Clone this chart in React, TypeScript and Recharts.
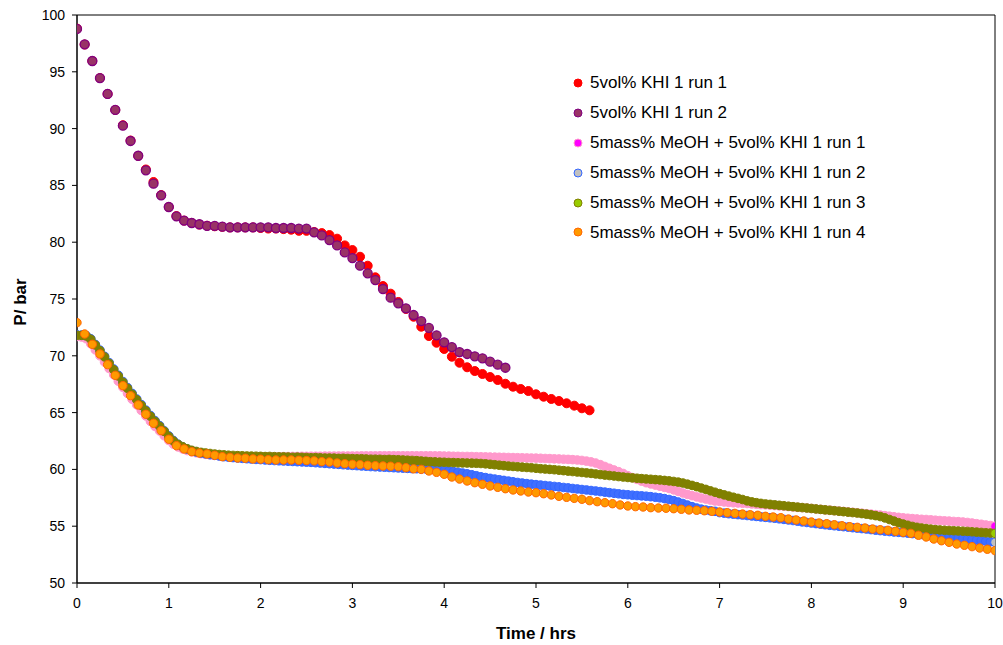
import React from 'react';
import { ScatterChart, Scatter, XAxis, YAxis, ReferenceLine } from 'recharts';

const FONT = '"Liberation Sans", Arial, Helvetica, sans-serif';

// Sampling intervals (hours)
const KHI_STEP = 5 / 60;
const DENSE_STEP = 0.05;

const X_TICKS = [0, 1, 2, 3, 4, 5, 6, 7, 8, 9, 10];
const Y_TICKS = [50, 55, 60, 65, 70, 75, 80, 85, 90, 95, 100];

const SERIES_NAMES = [
  '5vol% KHI 1 run 1',
  '5vol% KHI 1 run 2',
  '5mass% MeOH + 5vol% KHI 1 run 1',
  '5mass% MeOH + 5vol% KHI 1 run 2',
  '5mass% MeOH + 5vol% KHI 1 run 3',
  '5mass% MeOH + 5vol% KHI 1 run 4',
];

// 5vol% KHI 1 run 1 (every 5 min)
const khiRun1 = [
  98.8, 97.4, 95.95, 94.45, 93.05, 91.64, 90.3, 88.95, 87.6, 86.4,
  85.3, 84.15, 83.1, 82.3, 81.9, 81.7, 81.55, 81.45, 81.4, 81.35,
  81.3, 81.3, 81.3, 81.3, 81.25, 81.2, 81.2, 81.15, 81.1, 81.0,
  81.0, 80.9, 80.8, 80.63, 80.31, 79.72, 79.31, 78.72, 77.93, 76.91,
  76.14, 75.47, 74.74, 74.12, 73.44, 72.56, 71.74, 71.15, 70.6, 69.92,
  69.39, 68.99, 68.66, 68.4, 68.13, 67.87, 67.54, 67.28, 67.08, 66.9,
  66.61, 66.4, 66.2, 66.02, 65.82, 65.61, 65.38, 65.2,
];

// 5vol% KHI 1 run 2 (every 5 min)
const khiRun2 = [
  98.77, 97.42, 95.95, 94.45, 93.05, 91.64, 90.26, 88.91, 87.61, 86.33,
  85.15, 84.13, 83.1, 82.28, 81.9, 81.69, 81.58, 81.43, 81.43, 81.37,
  81.31, 81.31, 81.31, 81.31, 81.31, 81.31, 81.25, 81.25, 81.25, 81.2,
  81.2, 80.87, 80.6, 80.19, 79.72, 79.1, 78.6, 77.93, 77.26, 76.67,
  75.88, 75.12, 74.62, 74.18, 73.59, 73.06, 72.45, 71.8, 71.19, 70.77,
  70.33, 70.16, 69.95, 69.78, 69.48, 69.22, 68.95,
];

// 5mass% MeOH + 5vol% KHI 1 run 1 (dense, every 3 min)
const meohRun1 = [
  71.7, 71.65, 71.5, 71.05, 70.52, 70.0, 69.45, 68.88, 68.32, 67.77, 67.22, 66.69, 66.17, 65.68, 65.19, 64.7, 64.23, 63.78, 63.38, 62.96,
  62.55, 62.22, 61.98, 61.8, 61.66, 61.55, 61.46, 61.39, 61.33, 61.28, 61.24, 61.2, 61.17, 61.14, 61.12, 61.11, 61.1, 61.1, 61.1, 61.1,
  61.1, 61.11, 61.11, 61.12, 61.12, 61.13, 61.13, 61.14, 61.14, 61.15, 61.15, 61.16, 61.16, 61.16, 61.17, 61.17, 61.17, 61.18, 61.18, 61.18,
  61.18, 61.18, 61.19, 61.19, 61.19, 61.19, 61.2, 61.2, 61.2, 61.2, 61.2, 61.2, 61.2, 61.2, 61.2, 61.2, 61.2, 61.2, 61.19, 61.19,
  61.18, 61.17, 61.16, 61.15, 61.14, 61.14, 61.13, 61.12, 61.11, 61.1, 61.09, 61.08, 61.07, 61.06, 61.05, 61.04, 61.03, 61.02, 61.01, 61.0,
  60.99, 60.98, 60.96, 60.95, 60.93, 60.92, 60.9, 60.88, 60.86, 60.83, 60.79, 60.73, 60.66, 60.56, 60.42, 60.26, 60.1, 59.95, 59.8, 59.64,
  59.45, 59.28, 59.12, 58.97, 58.83, 58.72, 58.62, 58.52, 58.42, 58.32, 58.2, 58.06, 57.92, 57.8, 57.69, 57.58, 57.48, 57.39, 57.3, 57.22,
  57.18, 57.13, 57.09, 57.06, 57.04, 57.02, 57.0, 56.96, 56.93, 56.9, 56.88, 56.85, 56.82, 56.79, 56.76, 56.73, 56.7, 56.66, 56.63, 56.6,
  56.56, 56.52, 56.48, 56.44, 56.41, 56.37, 56.33, 56.3, 56.26, 56.22, 56.18, 56.14, 56.1, 56.06, 56.02, 55.98, 55.93, 55.88, 55.83, 55.78,
  55.74, 55.7, 55.67, 55.64, 55.61, 55.59, 55.56, 55.53, 55.5, 55.47, 55.45, 55.42, 55.4, 55.37, 55.33, 55.28, 55.22, 55.17, 55.11, 55.06,
  55.0,
];

// 5mass% MeOH + 5vol% KHI 1 run 2 (dense, every 3 min)
const meohRun2 = [
  71.85, 71.82, 71.78, 71.5, 71.0, 70.5, 69.96, 69.4, 68.84, 68.29, 67.74, 67.21, 66.69, 66.2, 65.71, 65.22, 64.75, 64.29, 63.86, 63.4,
  62.95, 62.55, 62.22, 61.98, 61.8, 61.65, 61.53, 61.44, 61.37, 61.3, 61.24, 61.18, 61.12, 61.08, 61.04, 61.0, 60.97, 60.94, 60.91, 60.88,
  60.86, 60.83, 60.8, 60.78, 60.76, 60.74, 60.72, 60.7, 60.68, 60.66, 60.64, 60.62, 60.59, 60.56, 60.53, 60.5, 60.47, 60.44, 60.41, 60.38,
  60.35, 60.33, 60.3, 60.28, 60.25, 60.23, 60.21, 60.19, 60.17, 60.15, 60.13, 60.11, 60.09, 60.07, 60.06, 60.05, 60.04, 60.03, 60.0, 59.96,
  59.92, 59.87, 59.81, 59.75, 59.68, 59.61, 59.53, 59.44, 59.35, 59.28, 59.21, 59.15, 59.09, 59.03, 58.97, 58.91, 58.85, 58.8, 58.75, 58.7,
  58.66, 58.62, 58.58, 58.54, 58.5, 58.46, 58.41, 58.37, 58.32, 58.28, 58.23, 58.19, 58.14, 58.1, 58.05, 58.0, 57.95, 57.9, 57.85, 57.8,
  57.77, 57.73, 57.7, 57.67, 57.64, 57.6, 57.55, 57.5, 57.43, 57.35, 57.25, 57.13, 57.0, 56.86, 56.72, 56.6, 56.5, 56.42, 56.36, 56.31,
  56.2, 56.15, 56.1, 56.06, 56.02, 55.98, 55.94, 55.9, 55.86, 55.82, 55.78, 55.74, 55.7, 55.65, 55.6, 55.55, 55.5, 55.44, 55.38, 55.33,
  55.28, 55.23, 55.18, 55.13, 55.08, 55.04, 55.0, 54.96, 54.92, 54.87, 54.83, 54.79, 54.75, 54.7, 54.65, 54.61, 54.57, 54.53, 54.49, 54.46,
  54.43, 54.39, 54.35, 54.31, 54.28, 54.24, 54.2, 54.16, 54.12, 54.08, 54.04, 53.99, 53.95, 53.9, 53.86, 53.81, 53.77, 53.72, 53.68, 53.63,
  53.58,
];

// 5mass% MeOH + 5vol% KHI 1 run 3 (dense, every 3 min)
const meohRun3 = [
  71.8, 71.8, 71.75, 71.45, 70.95, 70.45, 69.9, 69.33, 68.77, 68.22, 67.67, 67.14, 66.62, 66.13, 65.64, 65.15, 64.68, 64.22, 63.8, 63.35,
  62.9, 62.5, 62.2, 62.0, 61.82, 61.68, 61.58, 61.5, 61.45, 61.4, 61.35, 61.31, 61.28, 61.25, 61.23, 61.21, 61.2, 61.18, 61.17, 61.16,
  61.15, 61.13, 61.14, 61.12, 61.1, 61.1, 61.09, 61.07, 61.08, 61.06, 61.05, 61.03, 61.04, 61.02, 61.0, 61.0, 60.99, 60.97, 60.98, 60.96,
  60.95, 60.93, 60.94, 60.92, 60.9, 60.9, 60.89, 60.87, 60.88, 60.86, 60.85, 60.83, 60.81, 60.79, 60.77, 60.74, 60.71, 60.68, 60.66, 60.64,
  60.63, 60.61, 60.6, 60.58, 60.57, 60.56, 60.55, 60.54, 60.52, 60.49, 60.45, 60.41, 60.37, 60.33, 60.29, 60.26, 60.23, 60.2, 60.17, 60.14,
  60.1, 60.06, 60.03, 60.0, 59.97, 59.93, 59.89, 59.85, 59.81, 59.77, 59.73, 59.69, 59.65, 59.6, 59.55, 59.5, 59.46, 59.42, 59.37, 59.33,
  59.29, 59.25, 59.22, 59.19, 59.16, 59.13, 59.1, 59.07, 59.03, 58.99, 58.94, 58.88, 58.8, 58.7, 58.59, 58.48, 58.36, 58.24, 58.11, 57.99,
  57.87, 57.76, 57.65, 57.55, 57.45, 57.35, 57.23, 57.14, 57.07, 57.01, 56.96, 56.92, 56.88, 56.84, 56.8, 56.76, 56.72, 56.68, 56.64, 56.6,
  56.56, 56.52, 56.48, 56.44, 56.4, 56.36, 56.32, 56.28, 56.24, 56.2, 56.16, 56.11, 56.06, 56.0, 55.93, 55.85, 55.73, 55.59, 55.45, 55.31,
  55.19, 55.08, 54.98, 54.9, 54.84, 54.79, 54.74, 54.7, 54.67, 54.64, 54.62, 54.6, 54.58, 54.56, 54.54, 54.51, 54.48, 54.45, 54.42, 54.4,
  54.37,
];

// 5mass% MeOH + 5vol% KHI 1 run 4 (every 5 min)
const meohRun4 = [
  72.92, 71.92, 71.01, 70.16, 69.22, 68.28, 67.37, 66.49, 65.67, 64.85,
  64.06, 63.41, 62.65, 62.09, 61.8, 61.56, 61.44, 61.36, 61.24, 61.12,
  61.06, 61.0, 60.98, 60.92, 60.9, 60.85, 60.83, 60.83, 60.83, 60.8,
  60.78, 60.75, 60.68, 60.65, 60.56, 60.5, 60.45, 60.42, 60.36, 60.33,
  60.3, 60.28, 60.24, 60.15, 60.05, 60.0, 59.86, 59.74, 59.57, 59.33,
  59.15, 58.98, 58.83, 58.69, 58.54, 58.42, 58.3, 58.19, 58.1, 58.01,
  57.95, 57.86, 57.75, 57.63, 57.54, 57.45, 57.37, 57.25, 57.16, 57.07,
  56.98, 56.87, 56.78, 56.72, 56.69, 56.63, 56.6, 56.58, 56.54, 56.49,
  56.43, 56.4, 56.36, 56.31, 56.25, 56.19, 56.13, 56.07, 56.01, 55.96,
  55.87, 55.81, 55.75, 55.63, 55.55, 55.46, 55.37, 55.28, 55.22, 55.13,
  55.04, 54.96, 54.9, 54.84, 54.75, 54.69, 54.64, 54.55, 54.46, 54.37,
  54.2, 54.05, 53.87, 53.72, 53.58, 53.43, 53.32, 53.2, 53.08, 52.97,
  52.85,
];

const toPoints = (vals: number[], step: number) =>
  vals.map((p, i) => ({ t: Math.round(i * step * 10000) / 10000, p }));

const d1 = toPoints(khiRun1, KHI_STEP);
const d2 = toPoints(khiRun2, KHI_STEP);
const d3 = toPoints(meohRun1, DENSE_STEP);
const d4 = toPoints(meohRun2, DENSE_STEP);
const d5 = toPoints(meohRun3, DENSE_STEP);
const d6 = toPoints(meohRun4, KHI_STEP);

const STYLES = [
  { fill: '#FF0000', stroke: '#FF0000', band: '#FF0000', r: 4.5, sw: 1 },
  { fill: '#993366', stroke: '#800080', band: '#993366', r: 4.5, sw: 1.3 },
  { fill: '#FF00FF', stroke: '#FF99CC', band: '#FF99CC', r: 4.3, sw: 1 },
  { fill: '#C0C0C0', stroke: '#3366FF', band: '#3F6FFF', r: 4.3, sw: 1 },
  { fill: '#99CC00', stroke: '#808000', band: '#808000', r: 4.3, sw: 1 },
  { fill: '#FF9900', stroke: '#FF6600', band: '#FF9900', r: 4.2, sw: 1 },
];

const makeShape = (idx: number, lastT: number) => (props: any) => {
  const { cx, cy, payload } = props;
  if (cx == null || cy == null) return <g />;
  const s = STYLES[idx];
  const isLast = payload && payload.t === lastT;
  return (
    <circle
      cx={cx}
      cy={cy}
      r={s.r}
      fill={isLast ? s.fill : s.band}
      stroke={s.stroke}
      strokeWidth={s.sw}
    />
  );
};

const LegendBox = () => (
  <div
    style={{
      position: 'absolute',
      left: 572,
      top: 68,
      fontFamily: FONT,
      fontSize: 17,
      color: '#000',
      lineHeight: 1,
    }}
  >
    {SERIES_NAMES.map((name, i) => (
      <div key={name} style={{ height: 29.9, display: 'flex', alignItems: 'center', whiteSpace: 'nowrap' }}>
        <svg width={12} height={12} style={{ marginRight: 6, flex: 'none' }}>
          <circle cx={6} cy={6} r={4} fill={STYLES[i].fill} stroke={STYLES[i].stroke} strokeWidth={1} />
        </svg>
        <span>{name}</span>
      </div>
    ))}
  </div>
);

export default function App() {
  const tickStyle = { fill: '#000', fontSize: 14, fontFamily: FONT };
  return (
    <div style={{ position: 'absolute', left: 0, top: 0, width: 1003, height: 645, background: '#fff' }}>
      <ScatterChart width={1003} height={645} margin={{ top: 15, right: 8, bottom: 0, left: 0 }}>
        <XAxis
          type="number"
          dataKey="t"
          domain={[0, 10]}
          ticks={X_TICKS}
          interval={0}
          height={62}
          tick={tickStyle}
          tickSize={5}
          tickMargin={10}
          axisLine={{ stroke: '#000', strokeWidth: 1.5 }}
          tickLine={{ stroke: '#000' }}
          allowDataOverflow
          label={{
            content: (p: any) => {
              const vb = p.viewBox || {};
              return (
                <text
                  x={vb.x + vb.width / 2}
                  y={vb.y + 56}
                  textAnchor="middle"
                  fontFamily={FONT}
                  fontSize={17}
                  fontWeight="bold"
                  fill="#000"
                >
                  Time / hrs
                </text>
              );
            },
          }}
        />
        <YAxis
          type="number"
          dataKey="p"
          domain={[50, 100]}
          ticks={Y_TICKS}
          interval={0}
          width={77}
          tick={tickStyle}
          tickSize={5}
          tickMargin={7}
          axisLine={{ stroke: '#000', strokeWidth: 1.5 }}
          tickLine={{ stroke: '#000' }}
          allowDataOverflow
          label={{
            content: (p: any) => {
              const vb = p.viewBox || {};
              const x = 20;
              const y = vb.y + vb.height / 2 + 3;
              return (
                <text
                  x={x}
                  y={y}
                  transform={`rotate(-90 ${x} ${y})`}
                  textAnchor="middle"
                  dominantBaseline="central"
                  fontFamily={FONT}
                  fontSize={17}
                  fontWeight="bold"
                  fill="#000"
                >
                  P/ bar
                </text>
              );
            },
          }}
        />
        <ReferenceLine y={100} stroke="#000" strokeWidth={1} />
        <ReferenceLine x={10} stroke="#000" strokeWidth={1} />
        <Scatter name={SERIES_NAMES[0]} data={d1} isAnimationActive={false} shape={makeShape(0, d1[d1.length - 1].t)} />
        <Scatter name={SERIES_NAMES[1]} data={d2} isAnimationActive={false} shape={makeShape(1, d2[d2.length - 1].t)} />
        <Scatter name={SERIES_NAMES[2]} data={d3} isAnimationActive={false} shape={makeShape(2, d3[d3.length - 1].t)} />
        <Scatter name={SERIES_NAMES[3]} data={d4} isAnimationActive={false} shape={makeShape(3, d4[d4.length - 1].t)} />
        <Scatter name={SERIES_NAMES[4]} data={d5} isAnimationActive={false} shape={makeShape(4, d5[d5.length - 1].t)} />
        <Scatter name={SERIES_NAMES[5]} data={d6} isAnimationActive={false} shape={makeShape(5, d6[d6.length - 1].t)} />
      </ScatterChart>
      <LegendBox />
    </div>
  );
}
